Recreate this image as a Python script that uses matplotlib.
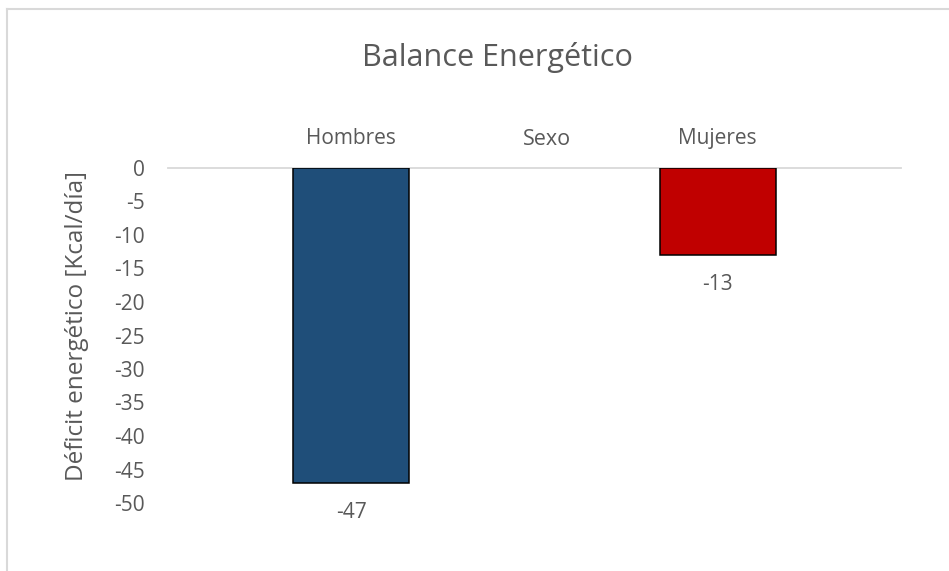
import matplotlib.pyplot as plt
from matplotlib.lines import Line2D

categorias = ["Hombres", "Mujeres"]
deficit = [-47, -13]
colores = ["#1F4E79", "#C00000"]
ticks_y = [0, -5, -10, -15, -20, -25, -30, -35, -40, -45, -50]

gris = "#595959"
plt.rcParams["font.family"] = ["Open Sans", "DejaVu Sans"]
plt.rcParams["axes.unicode_minus"] = False

fig = plt.figure(figsize=(9.49, 5.71), dpi=100)
ax = fig.add_axes([168 / 949, 68 / 571, 733 / 949, 335 / 571])

x = range(len(categorias))
barras = ax.bar(x, deficit, width=0.317, color=colores, edgecolor="black", linewidth=1.1, zorder=3)

for b, v in zip(barras, deficit):
    ax.annotate(str(v), (b.get_x() + b.get_width() / 2, v), xytext=(0, -25),
                textcoords="offset points", ha="center", va="baseline",
                fontsize=15, color=gris)

ax.set_xlim(-0.5, 1.5)
ax.set_ylim(-50, 0)
ax.set_yticks(ticks_y)
ax.set_xticks(list(x))
ax.set_xticklabels(categorias)

ax.xaxis.tick_top()
ax.tick_params(axis="x", length=0, pad=14, labelsize=15, labelcolor=gris)
ax.tick_params(axis="y", length=0, pad=16.5, labelsize=15, labelcolor=gris)

for lado in ["left", "right", "bottom"]:
    ax.spines[lado].set_visible(False)
ax.spines["top"].set_color("#d9d9d9")
ax.spines["top"].set_linewidth(1.3)

ax.xaxis.set_label_position("top")
ax.set_xlabel("Sexo", fontsize=15.5, color=gris)
ax.xaxis.set_label_coords(0.5 + 12 / 733, (503 - 145) / 335)
ax.xaxis.label.set_va("baseline")

ax.set_ylabel("Déficit energético [Kcal/día]", fontsize=17.5, color=gris)
ax.yaxis.set_label_coords((77 - 168) / 733, (503 - 326.5) / 335)
ax.yaxis.label.set_va("center")

fig.text(497 / 949, 1 - 66 / 571, "Balance Energético", ha="center", va="baseline",
         fontsize=22, color=gris)

# marco del área del gráfico (recortado a la derecha y abajo)
fig.add_artist(Line2D([6.5 / 949, 6.5 / 949], [0, 1 - 9 / 571], color="#d9d9d9", linewidth=1.5))
fig.add_artist(Line2D([6.5 / 949, 1], [1 - 9 / 571, 1 - 9 / 571], color="#d9d9d9", linewidth=1.5))

fig.savefig("out.png", dpi=100, facecolor="white")
